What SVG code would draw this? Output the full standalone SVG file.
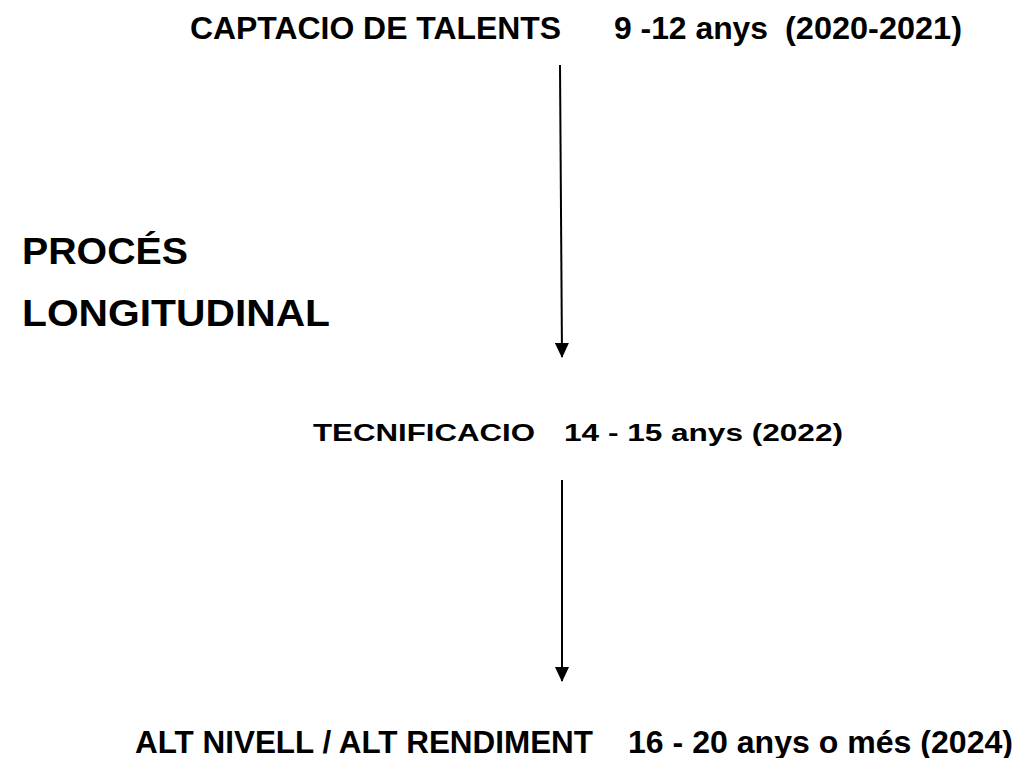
<svg xmlns="http://www.w3.org/2000/svg" width="1020" height="758" viewBox="0 0 1020 758">
<style>
text{font-family:"Liberation Sans",Arial,sans-serif;font-weight:bold;fill:#000;white-space:pre}
.c{stroke:#000;stroke-width:2;fill:none}
</style>
<defs>
<marker id="ah" markerWidth="15" markerHeight="14" refX="14" refY="7" orient="auto" markerUnits="userSpaceOnUse">
<path d="M0,0 L15,7 L0,14 z" fill="#000"/>
</marker>
</defs>
<rect width="1020" height="758" fill="#fff"/>
<g id="title">
<text x="22" y="264" font-size="36" textLength="166" lengthAdjust="spacingAndGlyphs">PROCÉS</text>
<text x="22" y="326" font-size="36" textLength="308" lengthAdjust="spacingAndGlyphs">LONGITUDINAL</text>
</g>
<g id="captacio" font-size="31">
<text x="190" y="39" textLength="371" lengthAdjust="spacingAndGlyphs">CAPTACIO DE TALENTS</text>
<text x="614" y="39" textLength="154" lengthAdjust="spacingAndGlyphs">9 -12 anys</text>
<text x="785" y="39" textLength="177" lengthAdjust="spacingAndGlyphs">(2020-2021)</text>
</g>
<g id="tecnificacio" font-size="24">
<text x="313" y="441" textLength="222" lengthAdjust="spacingAndGlyphs">TECNIFICACIO</text>
<text x="564" y="441" textLength="279" lengthAdjust="spacingAndGlyphs">14 - 15 anys (2022)</text>
</g>
<g id="altnivell" font-size="32">
<text x="135" y="753" textLength="458" lengthAdjust="spacingAndGlyphs">ALT NIVELL / ALT RENDIMENT</text>
<text x="628" y="753" textLength="385" lengthAdjust="spacingAndGlyphs">16 - 20 anys o més (2024)</text>
</g>
<g id="connectors">
<line class="c" x1="560" y1="65" x2="562" y2="357" marker-end="url(#ah)"/>
<line class="c" x1="562" y1="480" x2="562" y2="681" marker-end="url(#ah)"/>
</g>
</svg>
